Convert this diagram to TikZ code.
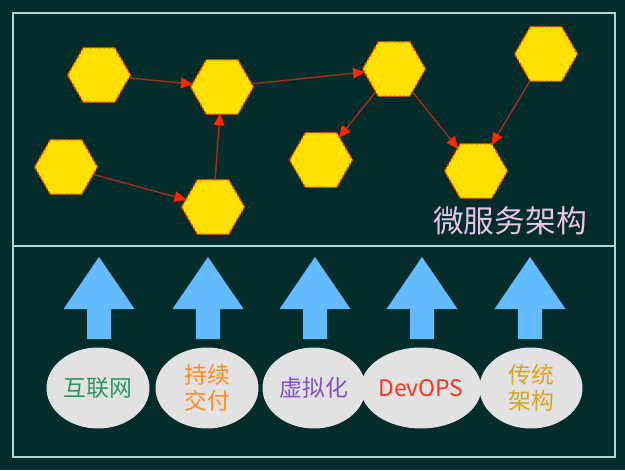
\documentclass[tikz,border=0pt]{standalone}
\usepackage{fontspec}
\setmainfont{Noto Sans CJK SC}
\usetikzlibrary{arrows.meta,shapes.geometric}
\definecolor{bg}{RGB}{4,44,42}
\definecolor{frame}{RGB}{176,214,214}
\definecolor{hexfill}{RGB}{255,224,0}
\definecolor{hexline}{RGB}{230,70,0}
\definecolor{link}{RGB}{165,45,30}
\definecolor{tip}{RGB}{255,40,0}
\definecolor{upblue}{RGB}{98,188,255}
\definecolor{oval}{RGB}{226,226,226}
\definecolor{tagpink}{RGB}{232,196,232}
\definecolor{tgreen}{RGB}{40,150,100}
\definecolor{torange}{RGB}{255,140,30}
\definecolor{tpurple}{RGB}{130,80,190}
\definecolor{tred}{RGB}{255,50,30}
\definecolor{tgold}{RGB}{215,165,35}

\begin{document}
\begin{tikzpicture}[x=0.02cm,y=-0.02cm,
  svc/.style={regular polygon,regular polygon sides=6,minimum size=1.26cm,inner sep=0,
    fill=hexfill,draw=hexline,line width=0.8pt,dash pattern=on 1.6pt off 1pt},
  dep/.style={draw=link,line width=0.8pt,-{Triangle[length=7pt,width=6pt,color=tip]},shorten >=-1pt},
  base/.style={ellipse,fill=oval,minimum width=2.06cm,minimum height=1.62cm,inner sep=0,
    font=\fontsize{13}{15}\selectfont,align=center}]
 \fill[bg] (0,0) rectangle (625,470);
 \useasboundingbox (0,0) rectangle (625,470);
 % frame
 \draw[frame,line width=1.3pt] (13,13) rectangle (615,457);
 \draw[frame,line width=1.3pt] (13,246) -- (615,246);
 % services
 \node[svc] (s1) at (99,75) {};
 \node[svc] (s2) at (222,87) {};
 \node[svc] (s3) at (66,167) {};
 \node[svc] (s4) at (213,207) {};
 \node[svc] (s5) at (321,160) {};
 \node[svc] (s6) at (394,69) {};
 \node[svc] (s7) at (546,54) {};
 \node[svc] (s8) at (476,171) {};
 \draw[dep] (s1)--(s2);
 \draw[dep] (s3)--(s4);
 \draw[dep] (s4)--(s2);
 \draw[dep] (s2)--(s6);
 \draw[dep] (s6)--(s5);
 \draw[dep] (s6)--(s8);
 \draw[dep] (s7)--(s8);
 \node[tagpink,font=\fontsize{17.5}{20}\selectfont] (ms) at (510,221) {微服务架构};
 % drivers
 \foreach \x in {99,208,315,422,530}
  \fill[upblue] (\x,257) -- (\x+35.5,309) -- (\x+12,309) -- (\x+12,339)
    -- (\x-12,339) -- (\x-12,309) -- (\x-35.5,309) -- cycle;
 \node[base,text=tgreen] (b1) at (98,388) {互联网};
 \node[base,text=torange] (b2) at (207,388) {持续\\交付};
 \node[base,text=tpurple] (b3) at (314,388) {虚拟化};
 \node[base,text=tred] (b4) at (421,388) {DevOPS};
 \node[base,text=tgold] (b5) at (531,388) {传统\\架构};
\end{tikzpicture}
\end{document}
